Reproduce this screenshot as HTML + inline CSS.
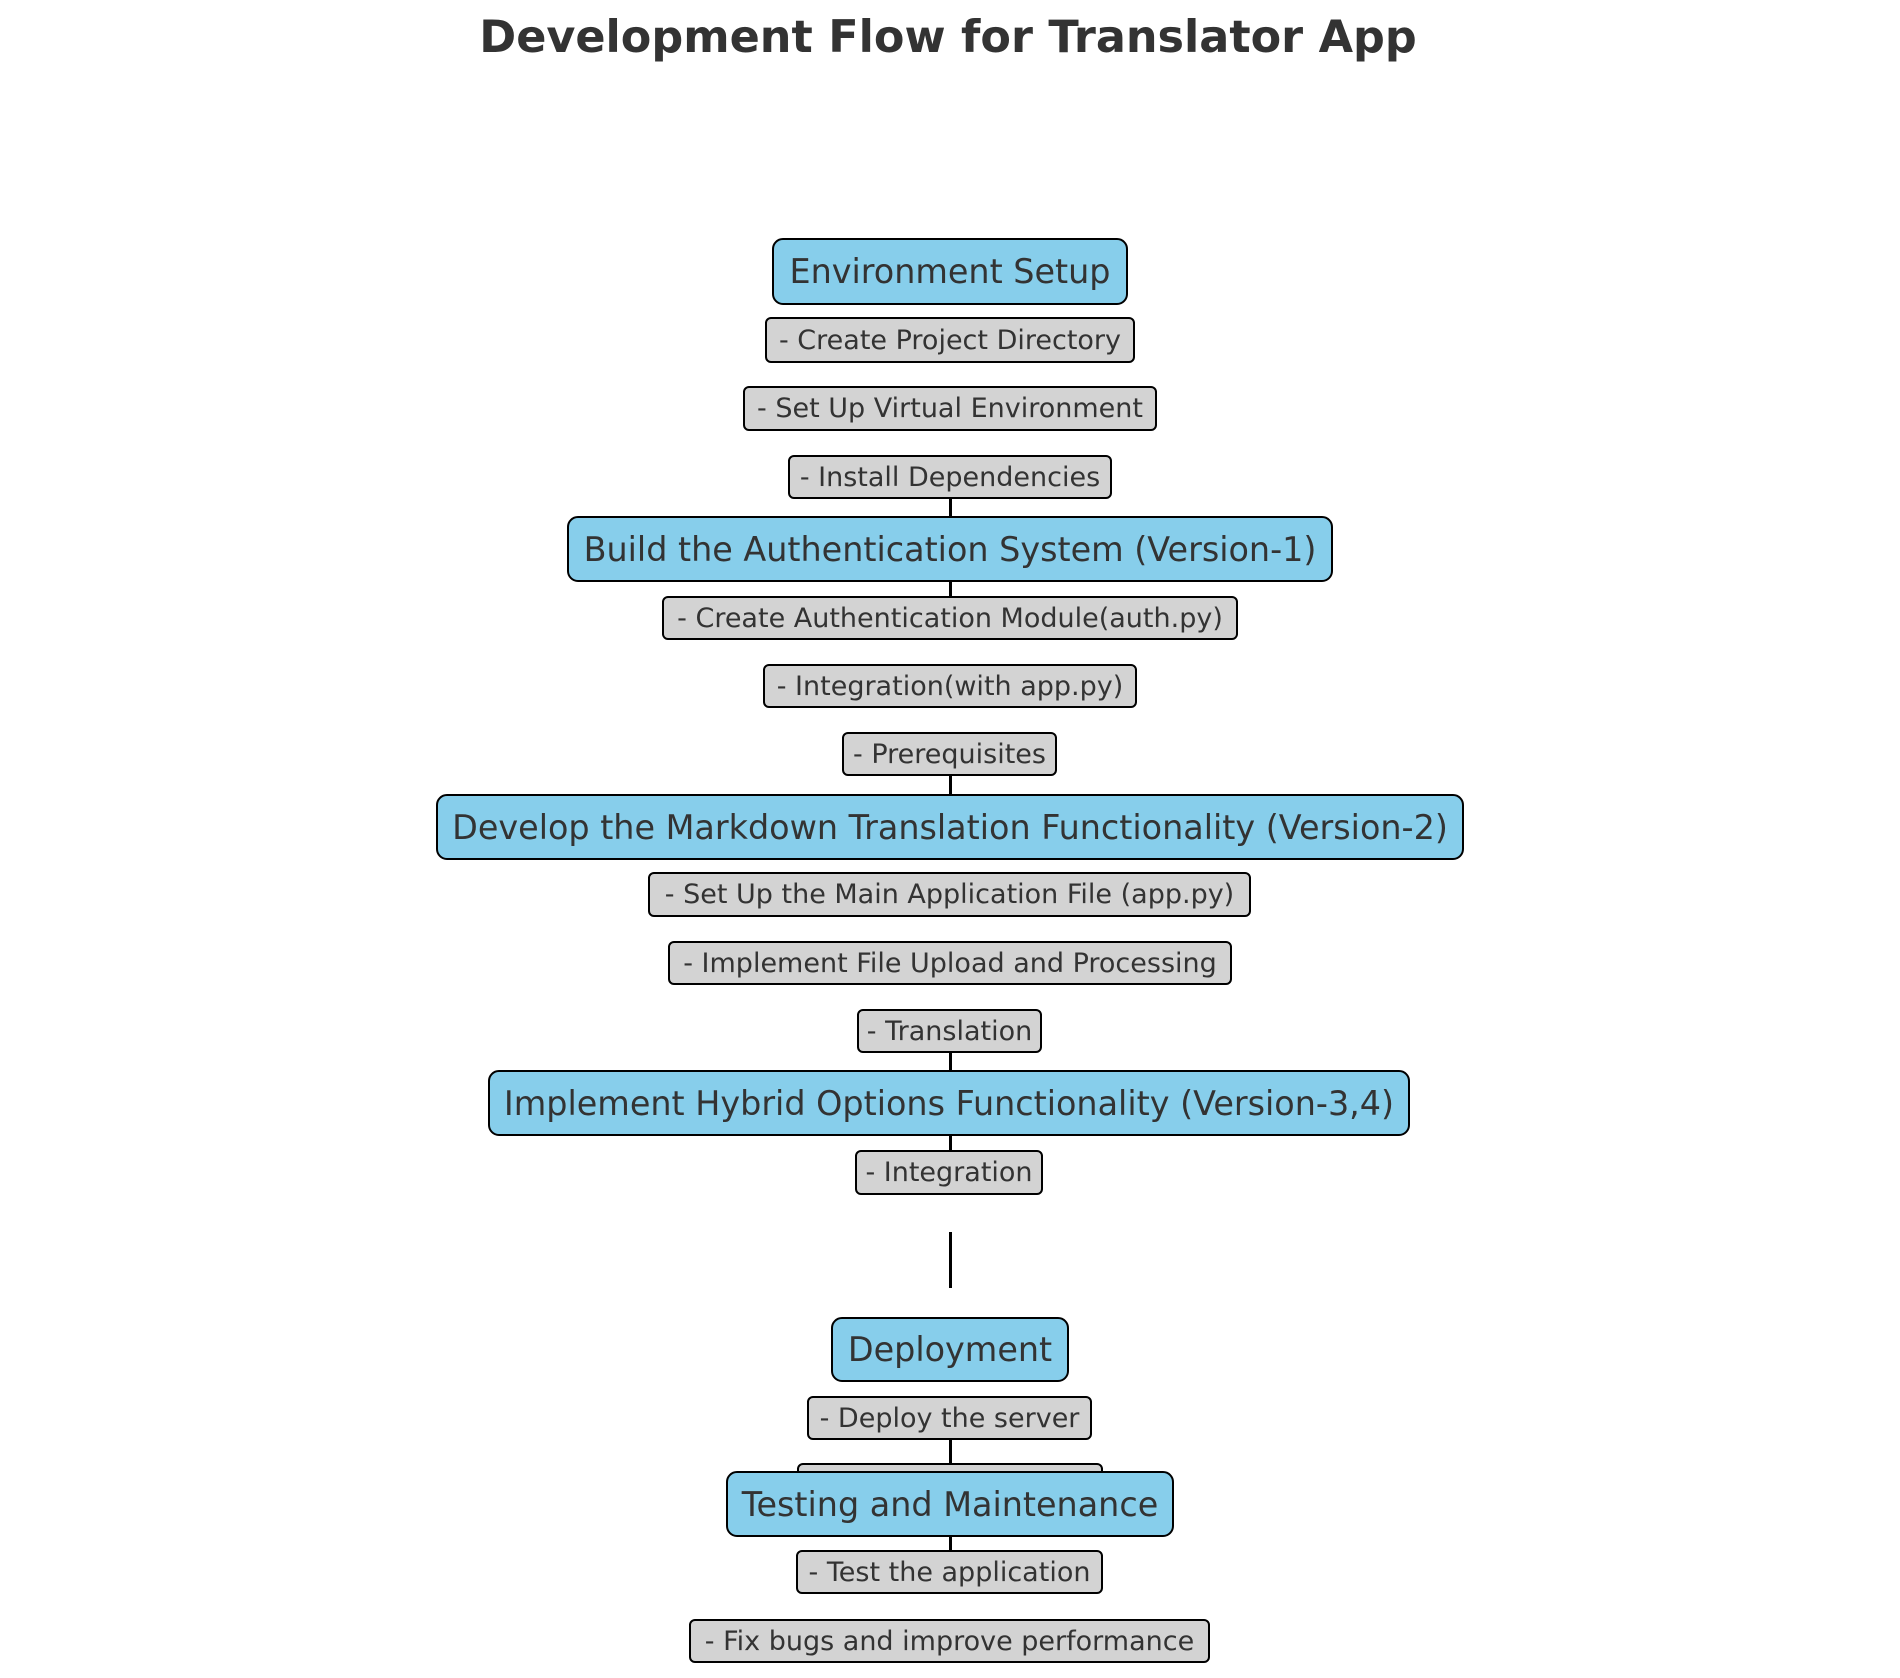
<!DOCTYPE html>
<html><head><meta charset="utf-8"><style>
body{margin:0;width:1900px;height:1678px;background:#fff;position:relative;overflow:hidden;font-family:"DejaVu Sans","Liberation Sans",sans-serif;color:#333}
.b{position:absolute;box-sizing:border-box;border:2.5px solid #000;display:flex;align-items:center;justify-content:center;white-space:nowrap}
.m{background:#87CEEB;border-radius:11px;font-size:33.4px}
.s{background:#D3D3D3;border-radius:6px;font-size:27px}
.l{position:absolute;left:949px;width:3px;background:#000}
h1{position:absolute;top:12px;left:0;width:1900px;text-align:center;margin:0;font-size:44.5px;font-weight:bold;color:#333}
</style></head><body>
<h1 style="left:-2px">Development Flow for Translator App</h1>
<div class="l" style="top:495px;height:24px"></div>
<div class="l" style="top:579px;height:20px"></div>
<div class="l" style="top:772px;height:25px"></div>
<div class="l" style="top:1049px;height:24px"></div>
<div class="l" style="top:1132px;height:20px"></div>
<div class="l" style="top:1232px;height:56px"></div>
<div class="l" style="top:1436px;height:38px"></div>
<div class="l" style="top:1533px;height:19px"></div>

<div class="b m" style="left:772px;top:238px;width:356px;height:67px">Environment Setup</div>
<div class="b s" style="left:765px;top:317px;width:370px;height:46px">- Create Project Directory</div>
<div class="b s" style="left:743px;top:386px;width:414px;height:45px">- Set Up Virtual Environment</div>
<div class="b s" style="left:788px;top:455px;width:324px;height:44px">- Install Dependencies</div>
<div class="b m" style="left:567px;top:516px;width:766px;height:66px">Build the Authentication System (Version-1)</div>
<div class="b s" style="left:662px;top:596px;width:576px;height:44px">- Create Authentication Module(auth.py)</div>
<div class="b s" style="left:763px;top:664px;width:374px;height:44px">- Integration(with app.py)</div>
<div class="b s" style="left:842px;top:732px;width:215px;height:44px">- Prerequisites</div>
<div class="b m" style="left:436px;top:794px;width:1028px;height:66px">Develop the Markdown Translation Functionality (Version-2)</div>
<div class="b s" style="left:648px;top:872px;width:603px;height:45px">- Set Up the Main Application File (app.py)</div>
<div class="b s" style="left:668px;top:941px;width:564px;height:44px">- Implement File Upload and Processing</div>
<div class="b s" style="left:857px;top:1009px;width:185px;height:44px">- Translation</div>
<div class="b m" style="left:488px;top:1070px;width:922px;height:66px">Implement Hybrid Options Functionality (Version-3,4)</div>
<div class="b s" style="left:855px;top:1150px;width:188px;height:45px">- Integration</div>
<div class="b m" style="left:831px;top:1317px;width:238px;height:65px">Deployment</div>
<div class="b s" style="left:807px;top:1396px;width:285px;height:44px">- Deploy the server</div>
<div class="b s" style="left:797px;top:1463px;width:306px;height:44px"></div>
<div class="b m" style="left:726px;top:1471px;width:448px;height:66px">Testing and Maintenance</div>
<div class="b s" style="left:796px;top:1550px;width:307px;height:44px">- Test the application</div>
<div class="b s" style="left:689px;top:1619px;width:521px;height:44px">- Fix bugs and improve performance</div>
</body></html>
